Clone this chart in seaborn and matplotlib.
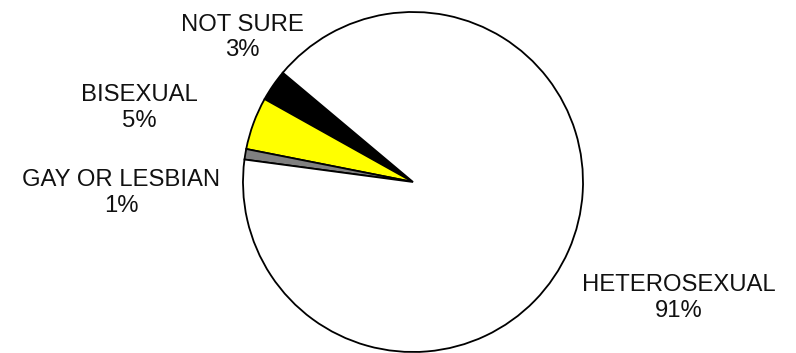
import matplotlib
matplotlib.use("Agg")
import matplotlib.pyplot as plt
import seaborn as sns

# dati
categorie = ["NOT SURE", "BISEXUAL", "GAY OR LESBIAN", "HETEROSEXUAL"]
percentuali = [3, 5, 1, 91]
colori = ["#000000", "#FFFF00", "#808080", "#FFFFFF"]

sns.set_theme(style="white")
plt.rcParams['font.family'] = ['Liberation Sans', 'DejaVu Sans']

fig = plt.figure(figsize=(7.96, 3.53), dpi=100)
ax = fig.add_axes([0, 0, 1, 1])

ax.pie(percentuali, colors=colori, startangle=140, counterclock=True,
       radius=1.0, wedgeprops={'edgecolor': 'black', 'linewidth': 1.3})

# posizione delle etichette (in unita' di raggio)
pos_etichette = [(-1.006, 0.85), (-1.612, 0.435), (-1.718, -0.065), (1.565, -0.682)]
for nome, p, (x, y) in zip(categorie, percentuali, pos_etichette):
    ax.text(x, y, f"{nome}\n{p}%", ha='center', va='center', fontsize=17.2,
            linespacing=1.2, color='#111111')

ax.set_xlim(-413 / 170, (796 - 413) / 170)
ax.set_ylim(-171 / 170, 182 / 170)
ax.set_aspect('auto')
ax.axis('off')

fig.savefig("out.png", dpi=100)
